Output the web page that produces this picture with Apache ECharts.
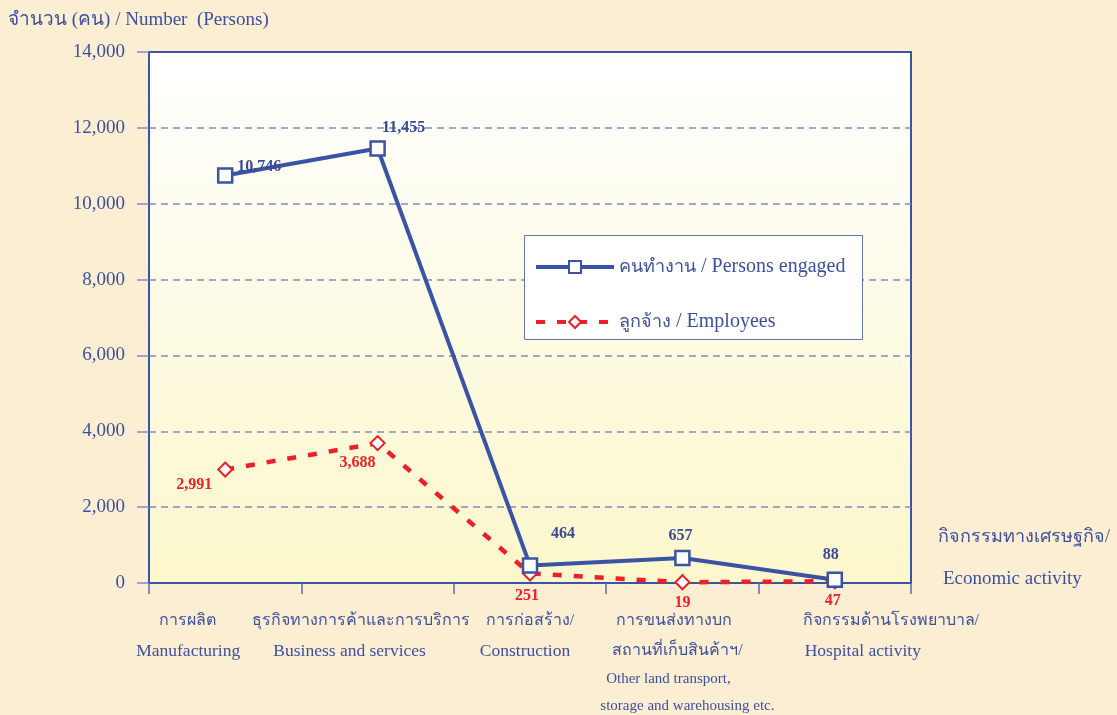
<!DOCTYPE html>
<html><head><meta charset="utf-8">
<script src="https://cdn.jsdelivr.net/npm/echarts@6/dist/echarts.min.js"></script>
<style>html,body{margin:0;padding:0;background:#fbefd6;} #c{width:1117px;height:715px;}</style>
</head><body><div id="c"></div>
<script>
// ---- data ----
const categories = [
  'การผลิต\nManufacturing',
  'ธุรกิจทางการค้าและการบริการ\nBusiness and services',
  'การก่อสร้าง/\nConstruction',
  'การขนส่งทางบก\nสถานที่เก็บสินค้าฯ/\nOther land transport,\nstorage and warehousing etc.',
  'กิจกรรมด้านโรงพยาบาล/\nHospital activity'
];
const personsEngaged = [10746, 11455, 464, 657, 88];
const employees = [2991, 3688, 251, 19, 47];
const seriesNames = ['คนทำงาน / Persons engaged', 'ลูกจ้าง / Employees'];
const yMin = 0, yMax = 14000, yStep = 2000;
const yTitle = 'จำนวน (คน) / Number  (Persons)';
const xTitle = ['กิจกรรมทางเศรษฐกิจ/', 'Economic activity'];

// ---- styling (not data) ----
const FONT = "'Liberation Serif', 'Times New Roman', 'Noto Sans', 'DejaVu Sans', serif";
const BLUE = '#3a53a4';
const TXT = '#3d50a0';
const RED = '#ee1f26';
const lineShift = [[-38,-37],[-17,-28],[0,-5],[-8,-5,-14,5],[56,28]];
const personsOffset = [[34,-9],[26,-21],[33,-32],[-2,-22],[-4,-25]];
const employeesOffset = [[-31,15],[-20,20],[-3,22],[0,21],[-2,20]];
const isThai = s => /[\u0E00-\u0E7F]/.test(s);

const rich = {};
lineShift.forEach((arr, i) => {
  arr.forEach((s, j) => {
    const small = j >= 2;
    rich['l' + i + '_' + j] = {
      fontFamily: FONT, color: TXT,
      fontSize: small ? 15 : 17.5,
      lineHeight: j < 2 ? 30 : (j === 2 ? 27 : 26),
      padding: s >= 0 ? [0, 0, 0, 2 * s] : [0, -2 * s, 0, 0]
    };
    rich['l' + i + '_' + j + 't'] = Object.assign({}, rich['l' + i + '_' + j], {fontSize: 16});
  });
});

const chart = echarts.init(document.getElementById('c'), null, {renderer: 'canvas'});
chart.setOption({
  backgroundColor: '#fbeed3',
  animation: false,
  grid: {
    left: 149, right: 206, top: 52, bottom: 132,
    show: true, borderColor: BLUE, borderWidth: 2,
    backgroundColor: {type: 'linear', x: 0, y: 0, x2: 0, y2: 1,
      colorStops: [{offset: 0, color: '#ffffff'}, {offset: 1, color: '#fcf7cb'}]}
  },
  legend: {
    left: 534, top: 257, orient: 'vertical', itemGap: 35,
    itemWidth: 78, itemHeight: 15, padding: 0,
    lineStyle: {width: 4},
    textStyle: {fontFamily: FONT, fontSize: 20, color: TXT,
      rich: {t: {fontFamily: FONT, fontSize: 18, color: TXT}, e: {fontFamily: FONT, fontSize: 20, color: TXT}}},
    formatter: name => {
      const k = name.indexOf(' / ');
      return '{t|' + name.slice(0, k) + '}{e| ' + name.slice(k + 1) + '}';
    },
    data: seriesNames
  },
  graphic: [
    {type: 'rect', z: 1, shape: {x: 524.5, y: 235.5, width: 338, height: 104},
     style: {fill: '#ffffff', stroke: '#6675b0', lineWidth: 1}},
    {type: 'text', left: 8, top: 11, style: {text: yTitle, font: '19px ' + FONT, fill: TXT}},
    {type: 'text', left: 938, top: 528, style: {text: xTitle[0], font: '18px ' + FONT, fill: TXT}},
    {type: 'text', left: 943, top: 570, style: {text: xTitle[1], font: '19px ' + FONT, fill: TXT}}
  ],
  xAxis: {
    type: 'category', data: categories, boundaryGap: true,
    axisLine: {show: true, lineStyle: {color: BLUE, width: 2}},
    axisTick: {show: true, length: 11, inside: false, lineStyle: {color: '#5a6db0', width: 1.5}},
    axisLabel: {
      interval: 0, margin: 23,
      formatter: function (v, idx) {
        return v.split('\n').map((t, j) => '{l' + idx + '_' + j + (isThai(t) ? 't' : '') + '|' + t + '}').join('\n');
      },
      rich: rich
    },
    splitLine: {show: false}
  },
  yAxis: {
    type: 'value', min: yMin, max: yMax, interval: yStep,
    axisLine: {show: true, lineStyle: {color: BLUE, width: 2}},
    axisTick: {show: true, length: 12, lineStyle: {color: '#7f8fc4', width: 1.5}},
    axisLabel: {
      margin: 24, fontFamily: FONT, fontSize: 19, color: TXT,
      formatter: v => v.toLocaleString('en-US')
    },
    splitLine: {show: true, showMinLine: false, showMaxLine: false,
      lineStyle: {color: '#7d8cc2', width: 1.5, type: [7, 5]}}
  },
  series: [
    {
      name: seriesNames[0], type: 'line', z: 4,
      data: personsEngaged.map((v, i) => ({
        value: v,
        label: {offset: personsOffset[i]}
      })),
      lineStyle: {color: BLUE, width: 4},
      itemStyle: {color: '#ffffff', borderColor: BLUE, borderWidth: 2.5},
      symbol: 'rect', symbolSize: 14, showAllSymbol: true,
      label: {show: true, position: 'inside', fontFamily: FONT, fontWeight: 'bold', fontSize: 16,
        color: '#3a4b96', formatter: p => p.value.toLocaleString('en-US')}
    },
    {
      name: seriesNames[1], type: 'line', z: 3,
      data: employees.map((v, i) => ({
        value: v,
        label: {offset: employeesOffset[i]}
      })),
      lineStyle: {color: RED, width: 4.5, type: [9, 12]},
      itemStyle: {color: '#ffffff', borderColor: RED, borderWidth: 2},
      symbol: 'diamond', symbolSize: 14, showAllSymbol: true,
      label: {show: true, position: 'inside', fontFamily: FONT, fontWeight: 'bold', fontSize: 16,
        color: RED, formatter: p => p.value.toLocaleString('en-US')}
    }
  ]
});
</script></body></html>
